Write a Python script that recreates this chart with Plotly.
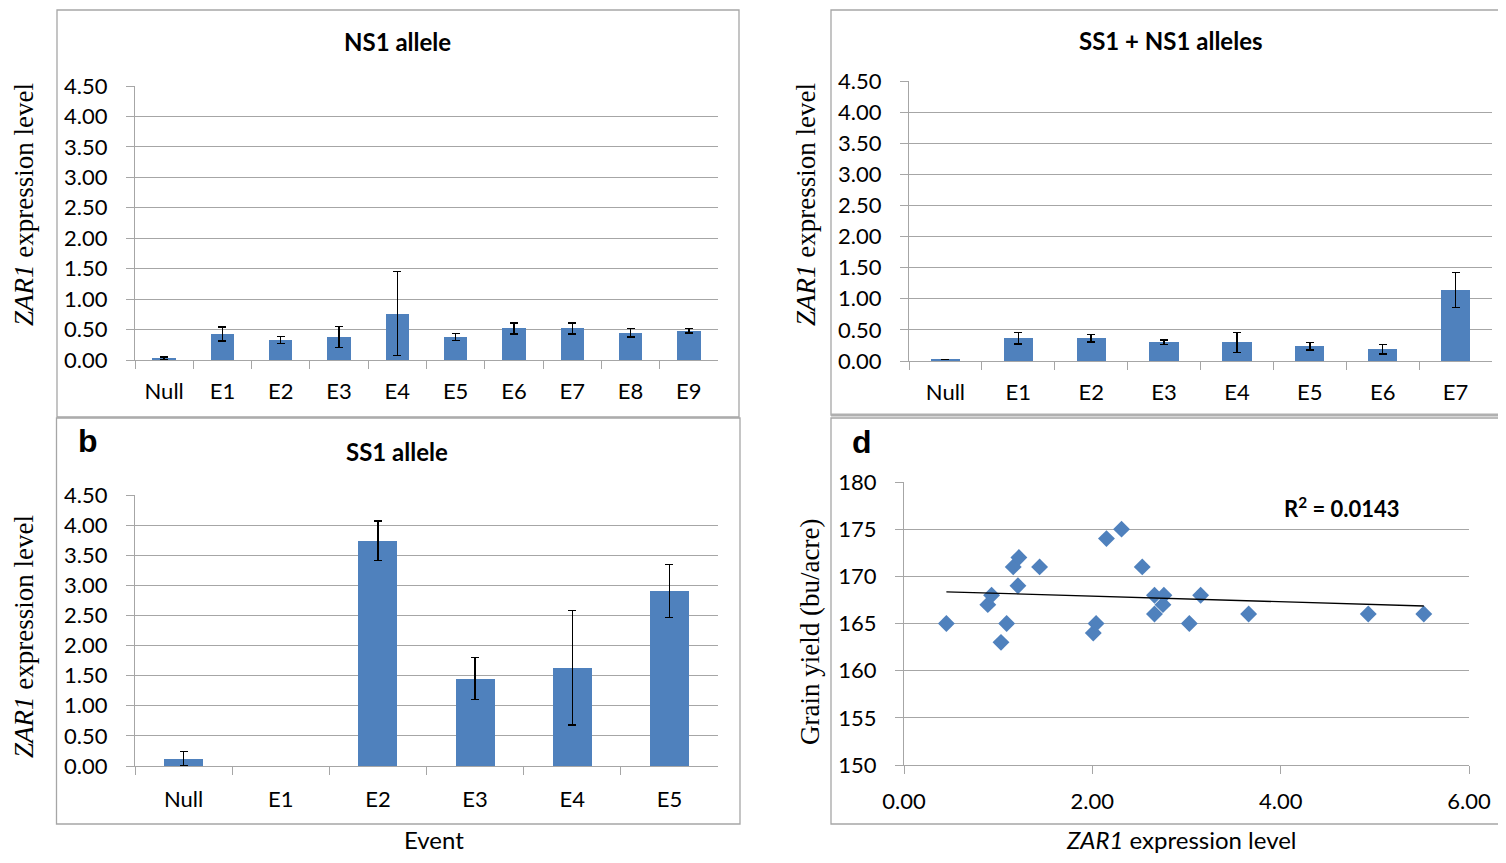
import numpy as np
import plotly.graph_objects as go

# page has an 8px body margin: figure sized to fit the 1506x863 window exactly
OFF = 8
W, H = 1506 - 2 * OFF, 863 - 2 * OFF

# ---------------- data ----------------
ns1_events = ["Null", "E1", "E2", "E3", "E4", "E5", "E6", "E7", "E8", "E9"]
ns1_values = [0.03, 0.43, 0.33, 0.38, 0.76, 0.38, 0.52, 0.52, 0.45, 0.48]
ns1_errors = [0.02, 0.115, 0.06, 0.175, 0.69, 0.06, 0.09, 0.09, 0.07, 0.035]

both_events = ["Null", "E1", "E2", "E3", "E4", "E5", "E6", "E7"]
both_values = [0.02, 0.365, 0.365, 0.30, 0.30, 0.24, 0.19, 1.14]
both_errors = [0.0, 0.09, 0.06, 0.035, 0.16, 0.06, 0.08, 0.28]

ss1_events = ["Null", "E1", "E2", "E3", "E4", "E5"]
ss1_values = [0.12, None, 3.74, 1.45, 1.63, 2.91]
ss1_errors = [0.12, None, 0.33, 0.35, 0.95, 0.44]

expr_level = [0.45, 0.89, 0.93, 1.03, 1.09, 1.16, 1.22, 1.21, 1.44, 2.01, 2.04,
              2.15, 2.31, 2.53, 2.66, 2.66, 2.76, 2.75, 3.03, 3.15, 3.66, 4.93, 5.52]
grain_yield = [165, 167, 168, 163, 165, 171, 172, 169, 171, 164, 165,
               174, 175, 171, 168, 166, 168, 167, 165, 168, 166, 166, 166]

expr_ticks = [0.0, 0.5, 1.0, 1.5, 2.0, 2.5, 3.0, 3.5, 4.0, 4.5]
r2_text = "R<sup>2</sup> = 0.0143"

# ---------------- styles ----------------
BLUE = "#4F81BD"
GRID = "#a6a6a6"
TICKFONT = dict(family="Lato", size=22, color="black")
TITLEFONT = dict(family="Lato", size=24, color="black")
SERIF = dict(family="Liberation Serif", size=27, color="black")


def px(x):
    return (x - OFF) / W


def py(y):
    return 1 - (y - OFF) / H


fig = go.Figure()

# bar panels
fig.add_trace(go.Bar(x=ns1_events, y=ns1_values, width=0.4, marker_color=BLUE,
                     marker_line_width=0,
                     error_y=dict(type="data", array=ns1_errors, color="black",
                                  thickness=1.4, width=4),
                     xaxis="x", yaxis="y", showlegend=False))
fig.add_trace(go.Bar(x=both_events, y=both_values, width=0.4, marker_color=BLUE,
                     marker_line_width=0,
                     error_y=dict(type="data", array=both_errors, color="black",
                                  thickness=1.4, width=4),
                     xaxis="x2", yaxis="y2", showlegend=False))
fig.add_trace(go.Bar(x=ss1_events, y=ss1_values, width=0.4, marker_color=BLUE,
                     marker_line_width=0,
                     error_y=dict(type="data", array=ss1_errors, color="black",
                                  thickness=1.4, width=4),
                     xaxis="x3", yaxis="y3", showlegend=False))

# scatter panel
fig.add_trace(go.Scatter(x=expr_level, y=grain_yield, mode="markers",
                         marker=dict(symbol="diamond", size=13, color=BLUE),
                         xaxis="x4", yaxis="y4", showlegend=False))
slope, intercept = np.polyfit(expr_level, grain_yield, 1)
xl = np.array([min(expr_level), max(expr_level)])
fig.add_trace(go.Scatter(x=xl, y=slope * xl + intercept, mode="lines",
                         line=dict(color="black", width=1.3),
                         xaxis="x4", yaxis="y4", showlegend=False))


def cat_axis(cats, dom, anchor, standoff):
    return dict(domain=dom, anchor=anchor, type="category", automargin=False,
                categoryorder="array", categoryarray=cats,
                tickson="boundaries", ticks="outside", ticklen=8,
                tickcolor=GRID, tickwidth=1.3, showgrid=False,
                showline=True, linecolor=GRID, linewidth=1.3,
                tickfont=TICKFONT, ticklabelstandoff=standoff, zeroline=False,
                fixedrange=True)


def val_axis(dom, anchor):
    return dict(domain=dom, anchor=anchor, range=[0, 4.5], tickvals=expr_ticks,
                automargin=False,
                tickformat=".2f", ticks="outside", ticklen=8, tickcolor=GRID,
                tickwidth=1.3, showgrid=True, gridcolor=GRID, gridwidth=1.3,
                showline=True, linecolor=GRID, linewidth=1.3,
                zeroline=False, tickfont=TICKFONT, ticklabelstandoff=14)


fig.update_layout(
    template="none", autosize=False,
    width=W, height=H, margin=dict(l=0, r=0, t=0, b=0, pad=0),
    paper_bgcolor="white", plot_bgcolor="white", bargap=0,
    xaxis=cat_axis(ns1_events, [px(135), px(718)], "y", 11),
    yaxis=val_axis([py(360), py(86)], "x"),
    xaxis2=cat_axis(both_events, [px(909), px(1492)], "y2", 11),
    yaxis2=val_axis([py(361), py(81)], "x2"),
    xaxis3=cat_axis(ss1_events, [px(135), px(718)], "y3", 13),
    yaxis3=val_axis([py(766), py(495)], "x3"),
    xaxis4=dict(domain=[px(904), px(1469)], anchor="y4", range=[0, 6], dtick=2,
                automargin=False,
                tickformat=".2f", ticks="outside", ticklen=8, tickcolor=GRID,
                tickwidth=1.3, showgrid=False, showline=True, linecolor=GRID,
                linewidth=1.3, zeroline=False, tickfont=TICKFONT,
                ticklabelstandoff=8),
    yaxis4=dict(domain=[py(765), py(482)], anchor="x4", range=[150, 180], dtick=5,
                automargin=False,
                ticks="outside", ticklen=8, tickcolor=GRID, tickwidth=1.3,
                showgrid=True, gridcolor=GRID, gridwidth=1.3, showline=True,
                linecolor=GRID, linewidth=1.3, zeroline=False, tickfont=TICKFONT,
                ticklabelstandoff=14),
)

# panel frames
frames = [(57, 10, 739, 417), (831, 10, 1530, 415),
          (56.5, 418, 740, 824), (831, 418, 1530, 824)]
for x0, y0, x1, y1 in frames:
    fig.add_shape(type="rect", xref="paper", yref="paper",
                  x0=px(x0), x1=px(x1), y0=py(y1), y1=py(y0),
                  line=dict(color=GRID, width=1.3), layer="below")
fig.add_shape(type="line", xref="paper", yref="paper", x0=px(831), x1=px(1530),
              y0=py(415), y1=py(415), line=dict(color="#b0b0b0", width=3))


def note(text, x, y, font, yanchor="middle", **kw):
    fig.add_annotation(text=text, x=px(x), y=py(y), xref="paper", yref="paper",
                       showarrow=False, font=font, xanchor="center",
                       yanchor=yanchor, **kw)


note("<b>NS1 allele</b>", 397, 42, TITLEFONT)
note("<b>SS1 + NS1 alleles</b>", 1171, 40, TITLEFONT)
note("<b>SS1 allele</b>", 397, 451, TITLEFONT)
note("<b>b</b>", 88, 441, dict(family="Liberation Sans", size=32, color="black"))
note("<b>d</b>", 862, 442, dict(family="Liberation Sans", size=32, color="black"))
note("<b>" + r2_text + "</b>", 1342, 507, dict(family="Lato", size=22, color="black"))

ylab = "<i>ZAR1</i> expression level"
note(ylab, 24, 205, SERIF, textangle=-90)
note(ylab, 806, 205, SERIF, textangle=-90)
note(ylab, 24, 637, SERIF, textangle=-90)
note("Grain yield (bu/acre)", 810, 632, SERIF, textangle=-90)
# bottom axis titles: anchored to the bottom edge of the figure so they stay whole
note("Event", 434, 855, dict(family="Lato", size=24, color="black"),
     yanchor="bottom", borderpad=0)
note("<i>ZAR1</i> expression level", 1181, 855,
     dict(family="Lato", size=24, color="black"), yanchor="bottom", borderpad=0)

fig.write_html("out.html")
